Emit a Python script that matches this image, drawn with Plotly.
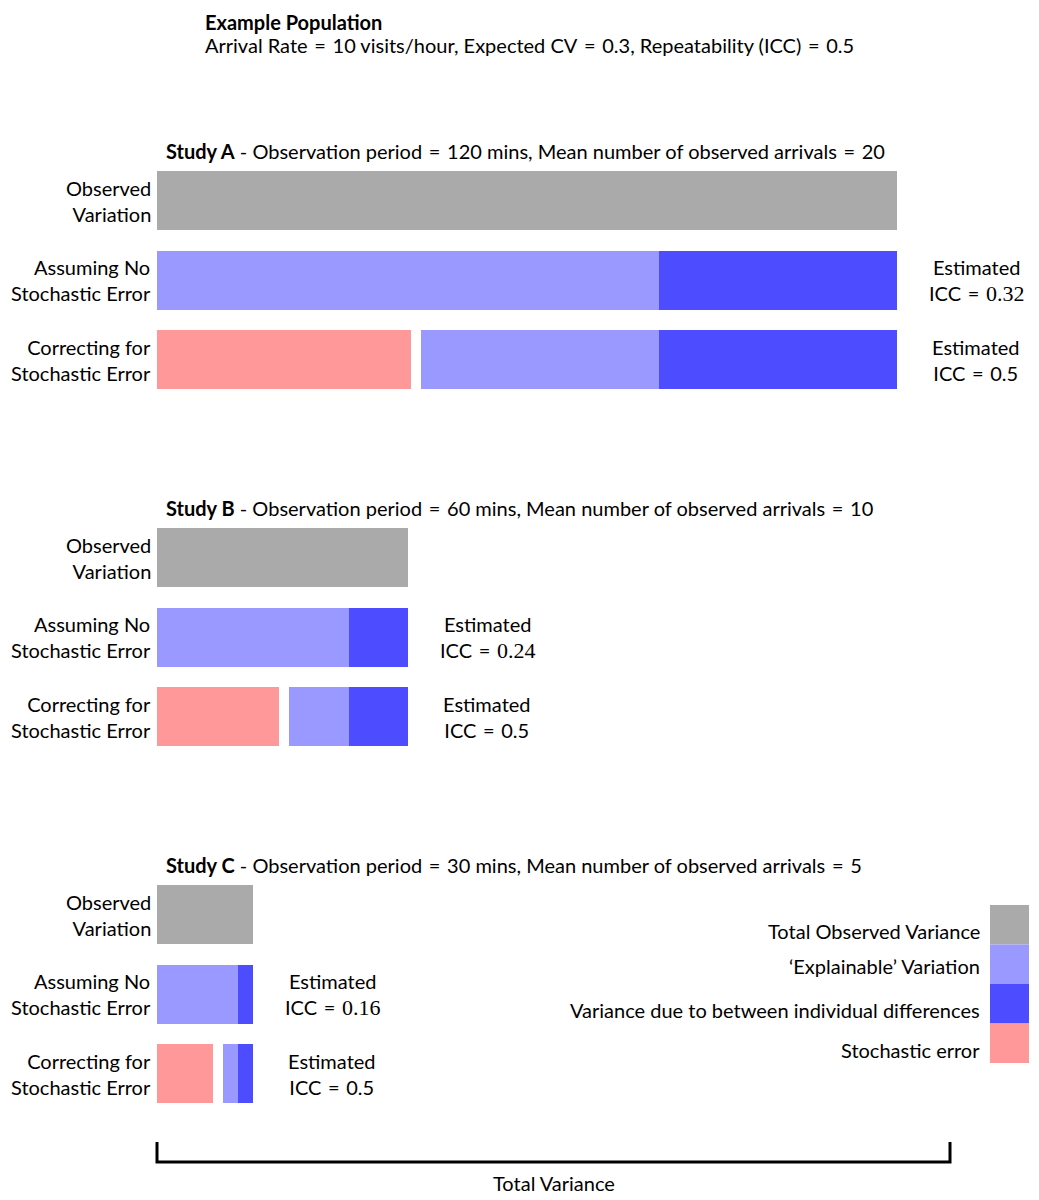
import plotly.graph_objects as go

# ---------------- data ----------------
studies = ["A", "B", "C"]
obs_period_mins = [120, 60, 30]
mean_arrivals = [20, 10, 5]
between_var = [18, 4.5, 1.125]      # variance due to between-individual differences
within_var = [18, 4.5, 1.125]       # remaining 'explainable' (within-individual) variance
stochastic_var = [20, 10, 5]        # Poisson stochastic error
row_labels = ["Observed<br>Variation", "Assuming No<br>Stochastic Error", "Correcting for<br>Stochastic Error"]
legend_labels = ["Total Observed Variance", "\u2018Explainable\u2019 Variation",
                 "Variance due to between individual differences", "Stochastic error"]
scale_max = 60  # extent of "Total Variance" bracket

# ---------------- styles ----------------
C_GREY = "#AAAAAA"
C_LIGHT = "#9999FF"
C_DARK = "#4D4DFF"
C_RED = "#FF9999"
FONT = "Lato"
FS = 20
EQ = "\u2004=\u2004"
W, H = 1039, 1200
OFF = 8  # page body margin
X0_PX, X1_PX = 157 - OFF, 950 - OFF
px_per_unit = (X1_PX - X0_PX) / scale_max
xmin = -X0_PX / px_per_unit
xmax = xmin + W / px_per_unit
GAP = 0.75
BAR_H = 59
STUDY_Y0 = 200.5
STUDY_DY = 357
ROW_DY = 79.5

fig = go.Figure()
annotations = []
shapes = []

def hbar(base, length, y, color):
    fig.add_trace(go.Bar(orientation="h", base=[base], x=[length], y=[y], width=BAR_H,
                         marker=dict(color=color, line=dict(width=0)),
                         showlegend=False, hoverinfo="skip"))

def txt(**kw):
    d = dict(showarrow=False, font=dict(family=FONT, size=FS, color="black"))
    d.update(kw)
    annotations.append(d)

for i, s in enumerate(studies):
    b, w, e = between_var[i], within_var[i], stochastic_var[i]
    total = b + w + e
    yc = [STUDY_Y0 + i * STUDY_DY + k * ROW_DY for k in range(3)]
    # observed
    hbar(0, total, yc[0], C_GREY)
    # assuming no stochastic error
    hbar(0, total - b, yc[1], C_LIGHT)
    hbar(total - b, b, yc[1], C_DARK)
    # correcting for stochastic error
    hbar(0, e - GAP, yc[2], C_RED)
    hbar(e, w, yc[2], C_LIGHT)
    hbar(e + w, b, yc[2], C_DARK)

    # title
    txt(x=0.5, y=yc[0] - 49.5, xref="x", yref="y", xanchor="left", yanchor="middle",
        text=f"<b>Study {s}</b> - Observation period{EQ}{obs_period_mins[i]} mins, "
             f"Mean number of observed arrivals{EQ}{mean_arrivals[i]}")
    # row labels
    for k in range(3):
        txt(x=-0.3, y=yc[k], xref="x", yref="y", xanchor="right", yanchor="middle",
            text=row_labels[k], align="right")
    # ICC labels
    icc_naive = b / total
    icc_corr = b / (b + w)
    txt(x=total + 6, y=yc[1], xref="x", yref="y", xanchor="center", yanchor="middle",
        text=f"Estimated<br>ICC{EQ}<span style='font-family:Liberation Serif;font-size:22px'>{icc_naive:.2f}</span>",
        align="center")
    txt(x=total + 6, y=yc[2], xref="x", yref="y", xanchor="center", yanchor="middle",
        text=f"Estimated<br>ICC{EQ}{icc_corr:g}", align="center")

# header
txt(x=(203 - OFF) / W, y=OFF, xref="paper", yref="y", xanchor="left", yanchor="top",
    text="<b>Example Population</b>")
txt(x=(203 - OFF) / W, y=45, xref="paper", yref="y", xanchor="left", yanchor="middle",
    text=f"Arrival Rate{EQ}10 visits/hour, Expected CV{EQ}0.3, Repeatability (ICC){EQ}0.5")

# legend
leg_colors = [C_GREY, C_LIGHT, C_DARK, C_RED]
leg_top = [905, 944.5, 984, 1023.5]
leg_text_y = [931, 966, 1010, 1050]
for k in range(4):
    shapes.append(dict(type="rect", xref="paper", yref="y", x0=(990 - OFF) / W, x1=(1029 - OFF) / W,
                       y0=leg_top[k], y1=leg_top[k] + 39.5, fillcolor=leg_colors[k],
                       line=dict(width=0), layer="above"))
    txt(x=(982 - OFF) / W, y=leg_text_y[k], xref="paper", yref="y", xanchor="right",
        yanchor="middle", text=legend_labels[k])

# bracket
shapes.append(dict(type="path", xref="x", yref="y",
                   path=f"M 0 1142 L 0 1162 L {scale_max} 1162 L {scale_max} 1142",
                   line=dict(color="black", width=3)))
txt(x=scale_max / 2, y=1183, xref="x", yref="y", xanchor="center", yanchor="middle",
    text="Total Variance")

fig.update_layout(
    width=W, height=H, margin=dict(l=0, r=0, t=0, b=0),
    paper_bgcolor="white", plot_bgcolor="white",
    barmode="overlay", bargap=0,
    xaxis=dict(range=[xmin, xmax], visible=False, fixedrange=True),
    yaxis=dict(range=[H + OFF, OFF], visible=False, fixedrange=True),
    annotations=annotations, shapes=shapes, showlegend=False,
)
fig.write_html("out.html")
